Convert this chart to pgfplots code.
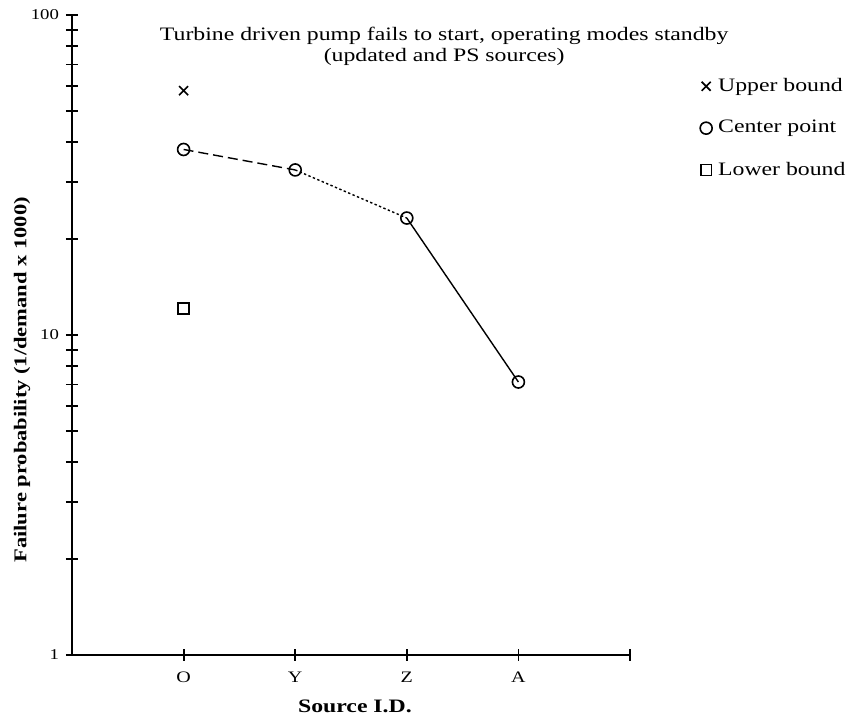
\documentclass[border=0pt]{standalone}
\usepackage{fontspec}
\setmainfont{Liberation Serif}[FakeStretch=1.25]
\usepackage{pgfplots}
\pgfplotsset{compat=1.18}

\begin{document}
\begin{tikzpicture}
\useasboundingbox (-36pt,-31pt) rectangle (389pt,327.5pt);
\begin{axis}[
    at={(0,0)}, anchor=south west,
    scale only axis,
    width=279pt, height=320pt,
    xmin=-1, xmax=4,
    ymode=log, ymin=1, ymax=100,
    axis x line=bottom, axis y line=left,
    axis line style={-, line width=1.4pt},
    xtick={0,1,2,3,4},
    xticklabels={O,Y,Z,A,},
    ytick={1,10,100},
    yticklabels={1,10,100},
    minor ytick={2,3,4,5,6,7,8,9,20,30,40,50,60,70,80,90},
    tick align=center,
    major tick length=6pt, minor tick length=6pt,
    every tick/.style={black, line width=0.9pt},
    xticklabel style={font=\fontsize{8}{9}\selectfont, yshift=-2pt},
    yticklabel style={font=\fontsize{7.5}{9}\selectfont},
    xlabel={Source I.D.},
    every axis x label/.style={at={(rel axis cs:0.507,0)}, anchor=north, yshift=-19pt, font=\fontsize{9.5}{11}\selectfont\bfseries},
    ylabel={Failure probability (1/demand x 1000)},
    every axis y label/.style={at={(rel axis cs:0,0.43)}, rotate=90, anchor=center, yshift=25pt, font=\fontsize{9}{11}\selectfont\bfseries},
    legend style={at={(rel axis cs:1.125,0.905)}, anchor=north west, draw=none, fill=none,
        font=\fontsize{9.5}{11}\selectfont, row sep=11pt, inner sep=0pt,
        nodes={inner sep=1pt, inner xsep=3pt}},
    legend cell align=left,
    legend image code/.code={\draw[#1] plot coordinates {(0.15cm,0cm)};},
    clip=false,
]
\addplot[forget plot, black, line width=0.7pt, dash pattern=on 5pt off 2.5pt] coordinates {(0,38.0) (1,32.8)};
\addplot[forget plot, black, line width=0.7pt, dash pattern=on 1.2pt off 1.2pt] coordinates {(1,32.8) (2,23.2)};
\addplot[forget plot, black, line width=0.7pt] coordinates {(2,23.2) (3,7.13)};

\addplot[only marks, black, mark=x, mark size=3.2pt, mark options={line width=0.8pt}] coordinates {(0,58.0)};
\addlegendentry{Upper bound}
\addplot[only marks, black, mark=o, mark size=3pt, mark options={line width=0.8pt, fill=white}] coordinates {(0,38.0) (1,32.8) (2,23.2) (3,7.13)};
\addlegendentry{Center point}
\addplot[only marks, black, mark=square, mark size=2.7pt, mark options={line width=0.8pt}] coordinates {(0,12.1)};
\addlegendentry{Lower bound}

\node[anchor=north, align=center, font=\fontsize{9.5}{10.5}\selectfont] at (rel axis cs:0.667,0.992)
  {Turbine driven pump fails to start, operating modes standby\\(updated and PS sources)};
\end{axis}
\end{tikzpicture}
\end{document}
